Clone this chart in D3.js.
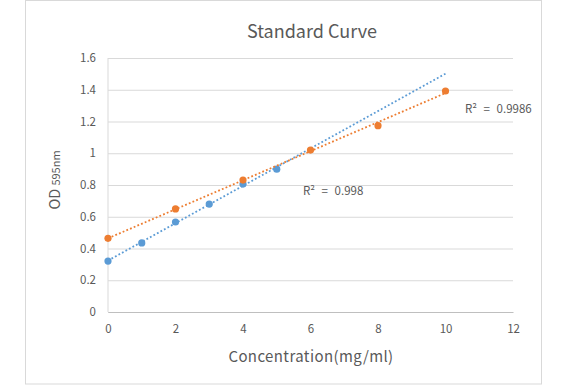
<!DOCTYPE html>
<html>
<head>
<meta charset="utf-8">
<script src="https://cdn.jsdelivr.net/npm/d3@7"></script>
<style>
  body { margin: 0; background: #fff; }
  text { font-family: "Noto Sans CJK KR", "Open Sans", sans-serif; fill: #595959; }
</style>
</head>
<body>
<svg id="chart" width="567" height="385"></svg>
<script>
'use strict';

// values
const blueX = [0, 1, 2, 3, 4, 5];
const blueY = [0.321, 0.435, 0.567, 0.68, 0.806, 0.90];
const orangeX = [0, 2, 4, 6, 8, 10];
const orangeY = [0.464, 0.649, 0.831, 1.02, 1.174, 1.392];
const xTicks = [0, 2, 4, 6, 8, 10, 12];
const yTicks = [0, 0.2, 0.4, 0.6, 0.8, 1, 1.2, 1.4, 1.6];
const r2Labels = ["R² = 0.998", "R² = 0.9986"];

const BLUE = "#5b9bd5";
const ORANGE = "#ed7d31";

const svg = d3.select("#chart");
const PLOT_L = 108, PLOT_R = 513, PLOT_T = 58, PLOT_B = 312;

const x = d3.scaleLinear().domain([0, 12]).range([PLOT_L, PLOT_R]);
const y = d3.scaleLinear().domain([0, 1.6]).range([PLOT_B, PLOT_T]);

// chart border
svg.append("rect")
   .attr("x", 25.5).attr("y", 0.5)
   .attr("width", 516).attr("height", 383.5)
   .attr("fill", "none").attr("stroke", "#d9d9d9");

// title
svg.append("text")
   .attr("x", 312).attr("y", 38)
   .attr("text-anchor", "middle")
   .style("font-size", "18px")
   .text("Standard Curve");

// gridlines + y labels
const yAxis = svg.append("g")
   .attr("transform", `translate(${PLOT_L},0)`)
   .call(d3.axisLeft(y).tickValues(yTicks).tickSize(-(PLOT_R - PLOT_L)).tickFormat(d3.format("~g")));
yAxis.select(".domain").remove();
yAxis.selectAll(".tick line").attr("stroke", "#d9d9d9");
yAxis.selectAll(".tick text").attr("x", -12).style("font-size", "11.5px").attr("fill", "#595959");

// x axis
const xAxis = svg.append("g")
   .attr("transform", `translate(0,${PLOT_B})`)
   .call(d3.axisBottom(x).tickValues(xTicks).tickSize(0));
xAxis.select(".domain").attr("stroke", "#bfbfbf");
xAxis.selectAll(".tick text").attr("dy", "1.55em").style("font-size", "11.5px").attr("fill", "#595959");

// vertical axis line
svg.append("line")
   .attr("x1", PLOT_L).attr("x2", PLOT_L).attr("y1", PLOT_T).attr("y2", PLOT_B)
   .attr("stroke", "#d9d9d9");

// axis titles
svg.append("text")
   .attr("x", 311).attr("y", 362)
   .attr("text-anchor", "middle")
   .style("font-size", "15px")
   .style("letter-spacing", "0.4px")
   .text("Concentration(mg/ml)");

const yt = svg.append("text")
   .attr("transform", "translate(60,180) rotate(-90)")
   .attr("text-anchor", "middle");
yt.append("tspan").style("font-size", "14.5px").text("OD ");
yt.append("tspan").style("font-size", "11px").text("595nm");

// linear trendline (least squares)
function fit(xs, ys) {
   const mx = d3.mean(xs), my = d3.mean(ys);
   const b = d3.sum(xs, (v, i) => (v - mx) * (ys[i] - my)) / d3.sum(xs, v => (v - mx) * (v - mx));
   return { b, a: my - b * mx };
}

function series(xs, ys, color, x1) {
   const f = fit(xs, ys);
   svg.append("line")
      .attr("x1", x(0)).attr("y1", y(f.a))
      .attr("x2", x(x1)).attr("y2", y(f.a + f.b * x1))
      .attr("stroke", color).attr("stroke-width", 1.8)
      .attr("stroke-dasharray", "1.8 2.2");
   svg.append("g").selectAll("circle")
      .data(xs.map((v, i) => [v, ys[i]]))
      .join("circle")
      .attr("cx", d => x(d[0])).attr("cy", d => y(d[1]))
      .attr("r", 3.6).attr("fill", color);
}

series(blueX, blueY, BLUE, 10);
series(orangeX, orangeY, ORANGE, 10);

// R² labels
svg.append("text").attr("x", 303).attr("y", 195)
   .style("font-size", "11.5px").style("word-spacing", "4px").text(r2Labels[0]);
svg.append("text").attr("x", 465).attr("y", 113)
   .style("font-size", "11.5px").style("word-spacing", "4px").text(r2Labels[1]);
</script>
</body>
</html>
